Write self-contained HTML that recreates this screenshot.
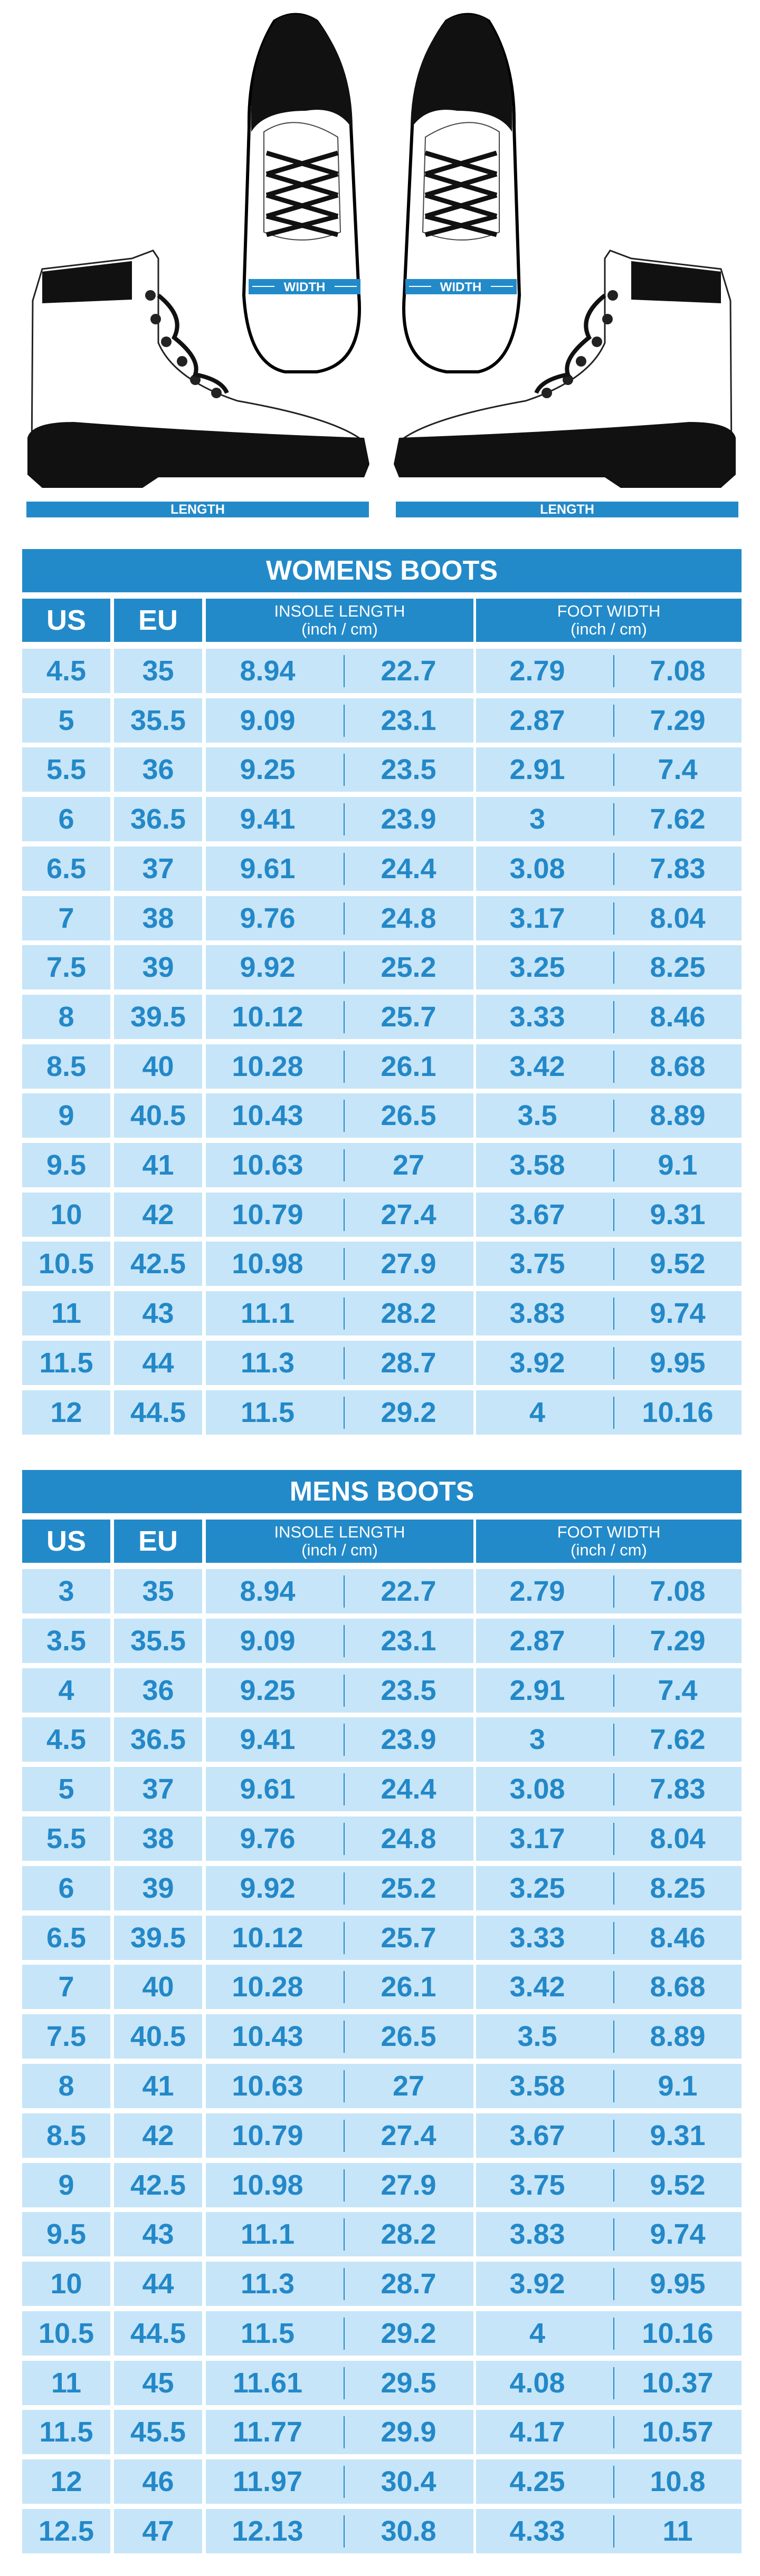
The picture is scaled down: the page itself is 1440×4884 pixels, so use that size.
<!DOCTYPE html>
<html><head><meta charset="utf-8">
<style>
*{margin:0;padding:0;box-sizing:border-box}
body{width:1440px;height:4884px;background:#fff;position:relative;overflow:hidden;font-family:"Liberation Sans",Arial,sans-serif}
.bar{position:absolute;background:#238ac9;color:#fff;font-weight:bold;text-align:center}
.hd{position:absolute;left:42px;width:1363px;height:82px;background:#238ac9;color:#fff;font-weight:bold;font-size:52px;line-height:82px;text-align:center}
.ch{position:absolute;left:42px;width:1363px;height:82px}
.ch div{position:absolute;top:0;height:82px;background:#238ac9;color:#fff;text-align:center}
.ch .big{font-weight:bold;font-size:54px;line-height:82px}
.ch .sm{font-size:31px;line-height:34px;padding-top:7px}
.r{position:absolute;left:42px;width:1363px;height:84px;color:#2388c8;font-weight:bold;font-size:54px;line-height:84px;text-align:center}
.r b{position:absolute;top:0;height:84px;background:#c6e5f8}
.a{left:0;width:167px}.b{left:174px;width:167px}.c{left:348px;width:507px}.d{left:860px;width:503px}
.r i{font-style:normal;position:absolute;top:0}
.c i:first-child{left:0;width:234px}.c i:last-child{left:261px;width:246px}
.d i:first-child{left:0;width:232px}.d i:last-child{left:260px;width:244px}
.c:after,.d:after{content:"";position:absolute;top:12px;height:61px;width:2px;background:#2388c8}
.c:after{left:261px}.d:after{left:260px}
.c1{left:0;width:167px}.c2{left:174px;width:167px}.c3{left:348px;width:507px}.c4{left:860px;width:503px}
</style></head><body>

<svg style="position:absolute;left:0;top:0" width="1440" height="950" viewBox="0 0 1440 950">
<!-- top view boots -->
<g id="tb">
<path d="M472 240 Q470 120 520 40 Q560 15 600 40 Q660 120 665 240 L680 560 Q690 690 600 705 L540 705 Q470 690 462 560 Z" fill="#fff" stroke="#000" stroke-width="6"/>
<path d="M476 250 Q470 110 525 35 Q565 18 600 38 Q668 120 668 245 Q640 200 580 210 Q500 210 476 250 Z" fill="#111"/>
<path d="M500 250 Q560 210 640 260 L645 440 Q570 470 500 440 Z" fill="#fff" stroke="#444" stroke-width="2"/>
<g stroke="#111" stroke-width="9" fill="none">
<path d="M505 290 L640 330 M640 290 L505 330 M505 330 L640 370 M640 330 L505 370 M505 370 L640 410 M640 370 L505 410 M505 410 L640 445 M640 410 L505 445"/>
</g>
</g>
<use href="#tb" transform="translate(1446 0) scale(-1 1)"/>
<rect x="471" y="529" width="212" height="29" fill="#238ac9"/>
<rect x="768" y="529" width="211" height="29" fill="#238ac9"/>
<text x="577" y="552" fill="#fff" font-size="24" font-weight="bold" text-anchor="middle" font-family="Liberation Sans">WIDTH</text>
<text x="873" y="552" fill="#fff" font-size="24" font-weight="bold" text-anchor="middle" font-family="Liberation Sans">WIDTH</text>
<g stroke="#fff" stroke-width="2"><line x1="478" y1="543" x2="520" y2="543"/><line x1="634" y1="543" x2="676" y2="543"/><line x1="775" y1="543" x2="817" y2="543"/><line x1="930" y1="543" x2="972" y2="543"/></g>
<!-- side boots -->
<g id="sb">
<path d="M80 510 L250 490 L290 475 L300 490 L300 650 Q330 720 450 760 Q620 790 680 830 L690 870 L60 870 L62 570 Z" fill="#fff" stroke="#222" stroke-width="3"/>
<path d="M80 515 L250 495 L250 568 L80 575 Z" fill="#111"/>
<path d="M52 830 Q60 800 140 800 Q400 820 690 830 L700 880 L690 905 L300 905 L270 925 L80 925 L52 900 Z" fill="#111"/>
<g fill="#222"><circle cx="285" cy="560" r="10"/><circle cx="295" cy="605" r="10"/><circle cx="315" cy="648" r="10"/><circle cx="345" cy="685" r="10"/><circle cx="370" cy="720" r="10"/><circle cx="410" cy="745" r="10"/></g>
<path d="M300 560 Q350 600 330 640 Q380 680 370 710 Q420 720 430 745" stroke="#111" stroke-width="8" fill="none"/>
</g>
<use href="#sb" transform="translate(1446 0) scale(-1 1)"/>
</svg>

<div class="bar" style="left:50px;top:951px;width:649px;height:30px;font-size:25px;line-height:30px">LENGTH</div>
<div class="bar" style="left:750px;top:951px;width:649px;height:30px;font-size:25px;line-height:30px">LENGTH</div>

<div class="hd" style="top:1041px">WOMENS BOOTS</div>
<div class="ch" style="top:1135px"><div class="c1 big">US</div><div class="c2 big">EU</div><div class="c3 sm">INSOLE LENGTH<br>(inch / cm)</div><div class="c4 sm">FOOT WIDTH<br>(inch / cm)</div></div>

<div class="r" style="top:1230px"><b class="a">4.5</b><b class="b">35</b><b class="c"><i>8.94</i><i>22.7</i></b><b class="d"><i>2.79</i><i>7.08</i></b></div>
<div class="r" style="top:1324px"><b class="a">5</b><b class="b">35.5</b><b class="c"><i>9.09</i><i>23.1</i></b><b class="d"><i>2.87</i><i>7.29</i></b></div>
<div class="r" style="top:1417px"><b class="a">5.5</b><b class="b">36</b><b class="c"><i>9.25</i><i>23.5</i></b><b class="d"><i>2.91</i><i>7.4</i></b></div>
<div class="r" style="top:1511px"><b class="a">6</b><b class="b">36.5</b><b class="c"><i>9.41</i><i>23.9</i></b><b class="d"><i>3</i><i>7.62</i></b></div>
<div class="r" style="top:1605px"><b class="a">6.5</b><b class="b">37</b><b class="c"><i>9.61</i><i>24.4</i></b><b class="d"><i>3.08</i><i>7.83</i></b></div>
<div class="r" style="top:1699px"><b class="a">7</b><b class="b">38</b><b class="c"><i>9.76</i><i>24.8</i></b><b class="d"><i>3.17</i><i>8.04</i></b></div>
<div class="r" style="top:1792px"><b class="a">7.5</b><b class="b">39</b><b class="c"><i>9.92</i><i>25.2</i></b><b class="d"><i>3.25</i><i>8.25</i></b></div>
<div class="r" style="top:1886px"><b class="a">8</b><b class="b">39.5</b><b class="c"><i>10.12</i><i>25.7</i></b><b class="d"><i>3.33</i><i>8.46</i></b></div>
<div class="r" style="top:1980px"><b class="a">8.5</b><b class="b">40</b><b class="c"><i>10.28</i><i>26.1</i></b><b class="d"><i>3.42</i><i>8.68</i></b></div>
<div class="r" style="top:2073px"><b class="a">9</b><b class="b">40.5</b><b class="c"><i>10.43</i><i>26.5</i></b><b class="d"><i>3.5</i><i>8.89</i></b></div>
<div class="r" style="top:2167px"><b class="a">9.5</b><b class="b">41</b><b class="c"><i>10.63</i><i>27</i></b><b class="d"><i>3.58</i><i>9.1</i></b></div>
<div class="r" style="top:2261px"><b class="a">10</b><b class="b">42</b><b class="c"><i>10.79</i><i>27.4</i></b><b class="d"><i>3.67</i><i>9.31</i></b></div>
<div class="r" style="top:2354px"><b class="a">10.5</b><b class="b">42.5</b><b class="c"><i>10.98</i><i>27.9</i></b><b class="d"><i>3.75</i><i>9.52</i></b></div>
<div class="r" style="top:2448px"><b class="a">11</b><b class="b">43</b><b class="c"><i>11.1</i><i>28.2</i></b><b class="d"><i>3.83</i><i>9.74</i></b></div>
<div class="r" style="top:2542px"><b class="a">11.5</b><b class="b">44</b><b class="c"><i>11.3</i><i>28.7</i></b><b class="d"><i>3.92</i><i>9.95</i></b></div>
<div class="r" style="top:2636px"><b class="a">12</b><b class="b">44.5</b><b class="c"><i>11.5</i><i>29.2</i></b><b class="d"><i>4</i><i>10.16</i></b></div>

<div class="hd" style="top:2787px">MENS BOOTS</div>
<div class="ch" style="top:2881px"><div class="c1 big">US</div><div class="c2 big">EU</div><div class="c3 sm">INSOLE LENGTH<br>(inch / cm)</div><div class="c4 sm">FOOT WIDTH<br>(inch / cm)</div></div>

<div class="r" style="top:2975px"><b class="a">3</b><b class="b">35</b><b class="c"><i>8.94</i><i>22.7</i></b><b class="d"><i>2.79</i><i>7.08</i></b></div>
<div class="r" style="top:3069px"><b class="a">3.5</b><b class="b">35.5</b><b class="c"><i>9.09</i><i>23.1</i></b><b class="d"><i>2.87</i><i>7.29</i></b></div>
<div class="r" style="top:3163px"><b class="a">4</b><b class="b">36</b><b class="c"><i>9.25</i><i>23.5</i></b><b class="d"><i>2.91</i><i>7.4</i></b></div>
<div class="r" style="top:3256px"><b class="a">4.5</b><b class="b">36.5</b><b class="c"><i>9.41</i><i>23.9</i></b><b class="d"><i>3</i><i>7.62</i></b></div>
<div class="r" style="top:3350px"><b class="a">5</b><b class="b">37</b><b class="c"><i>9.61</i><i>24.4</i></b><b class="d"><i>3.08</i><i>7.83</i></b></div>
<div class="r" style="top:3444px"><b class="a">5.5</b><b class="b">38</b><b class="c"><i>9.76</i><i>24.8</i></b><b class="d"><i>3.17</i><i>8.04</i></b></div>
<div class="r" style="top:3538px"><b class="a">6</b><b class="b">39</b><b class="c"><i>9.92</i><i>25.2</i></b><b class="d"><i>3.25</i><i>8.25</i></b></div>
<div class="r" style="top:3632px"><b class="a">6.5</b><b class="b">39.5</b><b class="c"><i>10.12</i><i>25.7</i></b><b class="d"><i>3.33</i><i>8.46</i></b></div>
<div class="r" style="top:3725px"><b class="a">7</b><b class="b">40</b><b class="c"><i>10.28</i><i>26.1</i></b><b class="d"><i>3.42</i><i>8.68</i></b></div>
<div class="r" style="top:3819px"><b class="a">7.5</b><b class="b">40.5</b><b class="c"><i>10.43</i><i>26.5</i></b><b class="d"><i>3.5</i><i>8.89</i></b></div>
<div class="r" style="top:3913px"><b class="a">8</b><b class="b">41</b><b class="c"><i>10.63</i><i>27</i></b><b class="d"><i>3.58</i><i>9.1</i></b></div>
<div class="r" style="top:4007px"><b class="a">8.5</b><b class="b">42</b><b class="c"><i>10.79</i><i>27.4</i></b><b class="d"><i>3.67</i><i>9.31</i></b></div>
<div class="r" style="top:4101px"><b class="a">9</b><b class="b">42.5</b><b class="c"><i>10.98</i><i>27.9</i></b><b class="d"><i>3.75</i><i>9.52</i></b></div>
<div class="r" style="top:4194px"><b class="a">9.5</b><b class="b">43</b><b class="c"><i>11.1</i><i>28.2</i></b><b class="d"><i>3.83</i><i>9.74</i></b></div>
<div class="r" style="top:4288px"><b class="a">10</b><b class="b">44</b><b class="c"><i>11.3</i><i>28.7</i></b><b class="d"><i>3.92</i><i>9.95</i></b></div>
<div class="r" style="top:4382px"><b class="a">10.5</b><b class="b">44.5</b><b class="c"><i>11.5</i><i>29.2</i></b><b class="d"><i>4</i><i>10.16</i></b></div>
<div class="r" style="top:4476px"><b class="a">11</b><b class="b">45</b><b class="c"><i>11.61</i><i>29.5</i></b><b class="d"><i>4.08</i><i>10.37</i></b></div>
<div class="r" style="top:4569px"><b class="a">11.5</b><b class="b">45.5</b><b class="c"><i>11.77</i><i>29.9</i></b><b class="d"><i>4.17</i><i>10.57</i></b></div>
<div class="r" style="top:4663px"><b class="a">12</b><b class="b">46</b><b class="c"><i>11.97</i><i>30.4</i></b><b class="d"><i>4.25</i><i>10.8</i></b></div>
<div class="r" style="top:4757px"><b class="a">12.5</b><b class="b">47</b><b class="c"><i>12.13</i><i>30.8</i></b><b class="d"><i>4.33</i><i>11</i></b></div>
</body></html>
